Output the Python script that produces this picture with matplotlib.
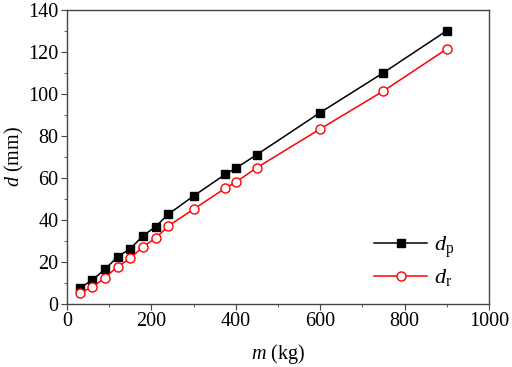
import matplotlib
matplotlib.use("Agg")
import matplotlib.pyplot as plt
from matplotlib.ticker import MultipleLocator

plt.rcParams['font.family'] = ['Liberation Serif', 'DejaVu Serif']
plt.rcParams['mathtext.fontset'] = 'custom'
plt.rcParams['mathtext.rm'] = 'Liberation Serif'
plt.rcParams['mathtext.it'] = 'Liberation Serif:italic'

# data
m = [30, 60, 90, 120, 150, 180, 210, 240, 300, 375, 400, 450, 600, 750, 900]
d_p = [7.5, 11.4, 16.5, 22.5, 26.3, 32.4, 36.8, 42.7, 51.4, 61.7, 64.6, 71.1, 91.1, 110.1, 130.1]
d_r = [5.4, 7.9, 12.5, 17.8, 21.7, 27.3, 31.3, 37.1, 45.1, 55.1, 58.0, 64.9, 83.3, 101.4, 121.4]

fig = plt.figure(figsize=(5.12, 3.67), dpi=100)
ax = fig.add_axes([0.131, 0.172, 0.824, 0.801])

ax.plot(m, d_p, color='black', lw=1.1, marker='s', ms=6, label=r'$d_{\mathrm{p}}$')
ax.plot(m, d_r, color='red', lw=1.1, marker='o', ms=6.5, mfc='white', mec='red',
        label=r'$d_{\mathrm{r}}$')

ax.set_xlim(0, 1000)
ax.set_ylim(0, 140)
ax.xaxis.set_major_locator(MultipleLocator(200))
ax.xaxis.set_minor_locator(MultipleLocator(100))
ax.yaxis.set_major_locator(MultipleLocator(20))
ax.yaxis.set_minor_locator(MultipleLocator(10))

spine_col = '#444444'
for s in ax.spines.values():
    s.set_color(spine_col)
    s.set_linewidth(1.0)
ax.tick_params(which='both', direction='out', top=False, right=False,
               color=spine_col, labelsize=14.5, pad=2)
ax.tick_params(which='major', length=4)
ax.tick_params(which='minor', length=2.5)

ax.set_xlabel(r'$m$ (kg)', fontsize=14.5, labelpad=8)
ax.set_ylabel(r'$d$ (mm)', fontsize=14.5, labelpad=2)

ax.legend(loc='lower right', bbox_to_anchor=(0.965, -0.015), frameon=False,
          fontsize=16, handlelength=2.4, labelspacing=0.35, handletextpad=0.3)

fig.savefig('out.png', dpi=100)
